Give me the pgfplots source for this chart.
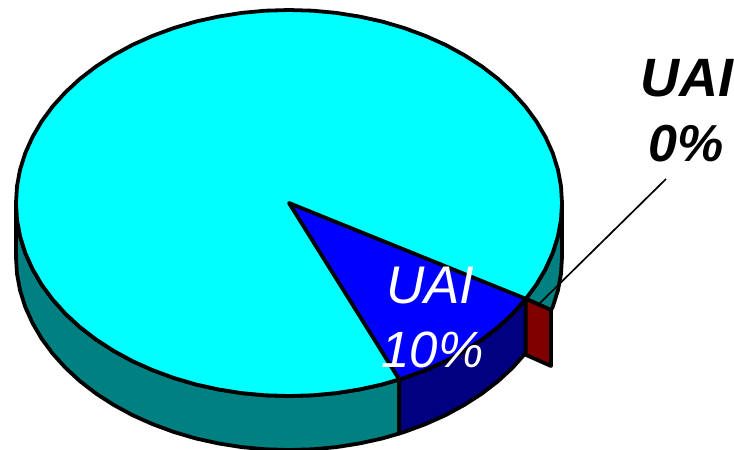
\documentclass[border=0pt]{standalone}
\usepackage{fontspec}
\setmainfont{Liberation Sans}
\usepackage{pgfplots}
\pgfplotsset{compat=1.18}
\definecolor{topcyan}{HTML}{00FFFF}
\definecolor{sidecyan}{HTML}{008080}
\definecolor{topblue}{HTML}{0000FF}
\definecolor{sideblue}{HTML}{000080}
\definecolor{sidered}{HTML}{800000}
\begin{document}
\begin{tikzpicture}
\begin{axis}[
  hide axis, scale only axis, width=734pt, height=450pt,
  xmin=0, xmax=734, ymin=0, ymax=450, y dir=reverse,
  clip=true,
  edge/.style={draw=black, line width=3.8pt, line join=round, mark=none},
]
% keep the whole plotting area inside the page
\path (axis cs:0,0) rectangle (axis cs:734,450);
% rim of the large slice, left part
\addplot[edge, fill=sidecyan] coordinates {
 (399.3,379.5) (382.4,384.4) (359.7,389.4) (336.4,393.1) (312.8,395.3) (289,396)
 (265.2,395.3) (241.6,393.1) (218.3,389.4) (195.6,384.4) (173.6,377.9) (152.5,370.1)
 (132.4,361.1) (113.5,350.8) (96,339.5) (79.9,327.1) (65.4,313.7) (52.6,299.5)
 (41.6,284.6) (32.5,269) (25.3,253) (20.1,236.5) (17,219.8) (16,203)
 (16,257) (17,273.8) (20.1,290.5) (25.3,307) (32.5,323) (41.6,338.6) (52.6,353.5)
 (65.4,367.7) (79.9,381.1) (96,393.5) (113.5,404.8) (132.4,415.1) (152.5,424.1)
 (173.6,431.9) (195.6,438.4) (218.3,443.4) (241.6,447.1) (265.2,449.3) (289,450)
 (312.8,449.3) (336.4,447.1) (359.7,443.4) (382.4,438.4) (399.3,433.5)
} --cycle;
% rim of the 10% slice
\addplot[edge, fill=sideblue] coordinates {
 (525.8,298.8) (512.6,313.7) (498.1,327.1) (482,339.5) (464.5,350.8) (445.6,361.1)
 (425.5,370.1) (404.4,377.9) (399.3,379.5) (399.3,433.5) (404.4,431.9) (425.5,424.1)
 (445.6,415.1) (464.5,404.8) (482,393.5) (498.1,381.1) (512.6,367.7) (525.8,352.8)
} --cycle;
% rim of the large slice, right part
\addplot[edge, fill=sidecyan] coordinates {
 (562,203) (561,219.8) (557.9,236.5) (552.7,253) (545.5,269) (536.4,284.6) (525.8,298.8)
 (551,310) (552.7,307) (557.9,290.5) (561,273.8) (562,257)
} --cycle;
% pulled-out 0% slice, only its cut face shows
\addplot[edge, fill=sidered] coordinates {
 (525.8,298.8) (551,310) (551,366) (525.8,354.8)
} --cycle;
% top face, large slice
\addplot[edge, fill=topcyan] coordinates {
 (562,203) (561,219.8) (557.9,236.5) (552.7,253) (545.5,269) (536.4,284.6) (525.4,299.5)
 (512.6,313.7) (498.1,327.1) (482,339.5) (464.5,350.8) (445.6,361.1) (425.5,370.1)
 (404.4,377.9) (382.4,384.4) (359.7,389.4) (336.4,393.1) (312.8,395.3) (289,396)
 (265.2,395.3) (241.6,393.1) (218.3,389.4) (195.6,384.4) (173.6,377.9) (152.5,370.1)
 (132.4,361.1) (113.5,350.8) (96,339.5) (79.9,327.1) (65.4,313.7) (52.6,299.5)
 (41.6,284.6) (32.5,269) (25.3,253) (20.1,236.5) (17,219.8) (16,203)
 (17,186.2) (20.1,169.5) (25.3,153) (32.5,137) (41.6,121.4) (52.6,106.5) (65.4,92.3)
 (79.9,78.9) (96,66.5) (113.5,55.2) (132.4,44.9) (152.5,35.9) (173.6,28.1) (195.6,21.6)
 (218.3,16.6) (241.6,12.9) (265.2,10.7) (289,10) (312.8,10.7) (336.4,12.9) (359.7,16.6)
 (382.4,21.6) (404.4,28.1) (425.5,35.9) (445.6,44.9) (464.5,55.2) (482,66.5) (498.1,78.9)
 (512.6,92.3) (525.4,106.5) (536.4,121.4) (545.5,137) (552.7,153) (557.9,169.5) (561,186.2)
} --cycle;
% top face, 10% slice
\addplot[edge, fill=topblue] coordinates {
 (289,203) (525.8,298.8) (512.6,313.7) (498.1,327.1) (482,339.5) (464.5,350.8)
 (445.6,361.1) (425.5,370.1) (404.4,377.9) (399.3,379.5)
} --cycle;
% leader line of the outside label
\addplot[draw=black, line width=1.7pt, mark=none] coordinates {(666,179) (540,303)};
% labels
\node[anchor=base, white, font=\fontsize{53}{53}\selectfont\itshape, inner sep=0pt] at (axis cs:430.5,303) {UAI};
\node[anchor=base, white, font=\fontsize{51}{51}\selectfont\itshape, inner sep=0pt] at (axis cs:432.5,367) {10\%};
\node[anchor=base, black, font=\fontsize{54}{54}\selectfont\bfseries\itshape, inner sep=0pt] at (axis cs:687,96) {UAI};
\node[anchor=base, black, font=\fontsize{52}{52}\selectfont\bfseries\itshape, inner sep=0pt] at (axis cs:686,161) {0\%};
\end{axis}
\end{tikzpicture}
\end{document}
